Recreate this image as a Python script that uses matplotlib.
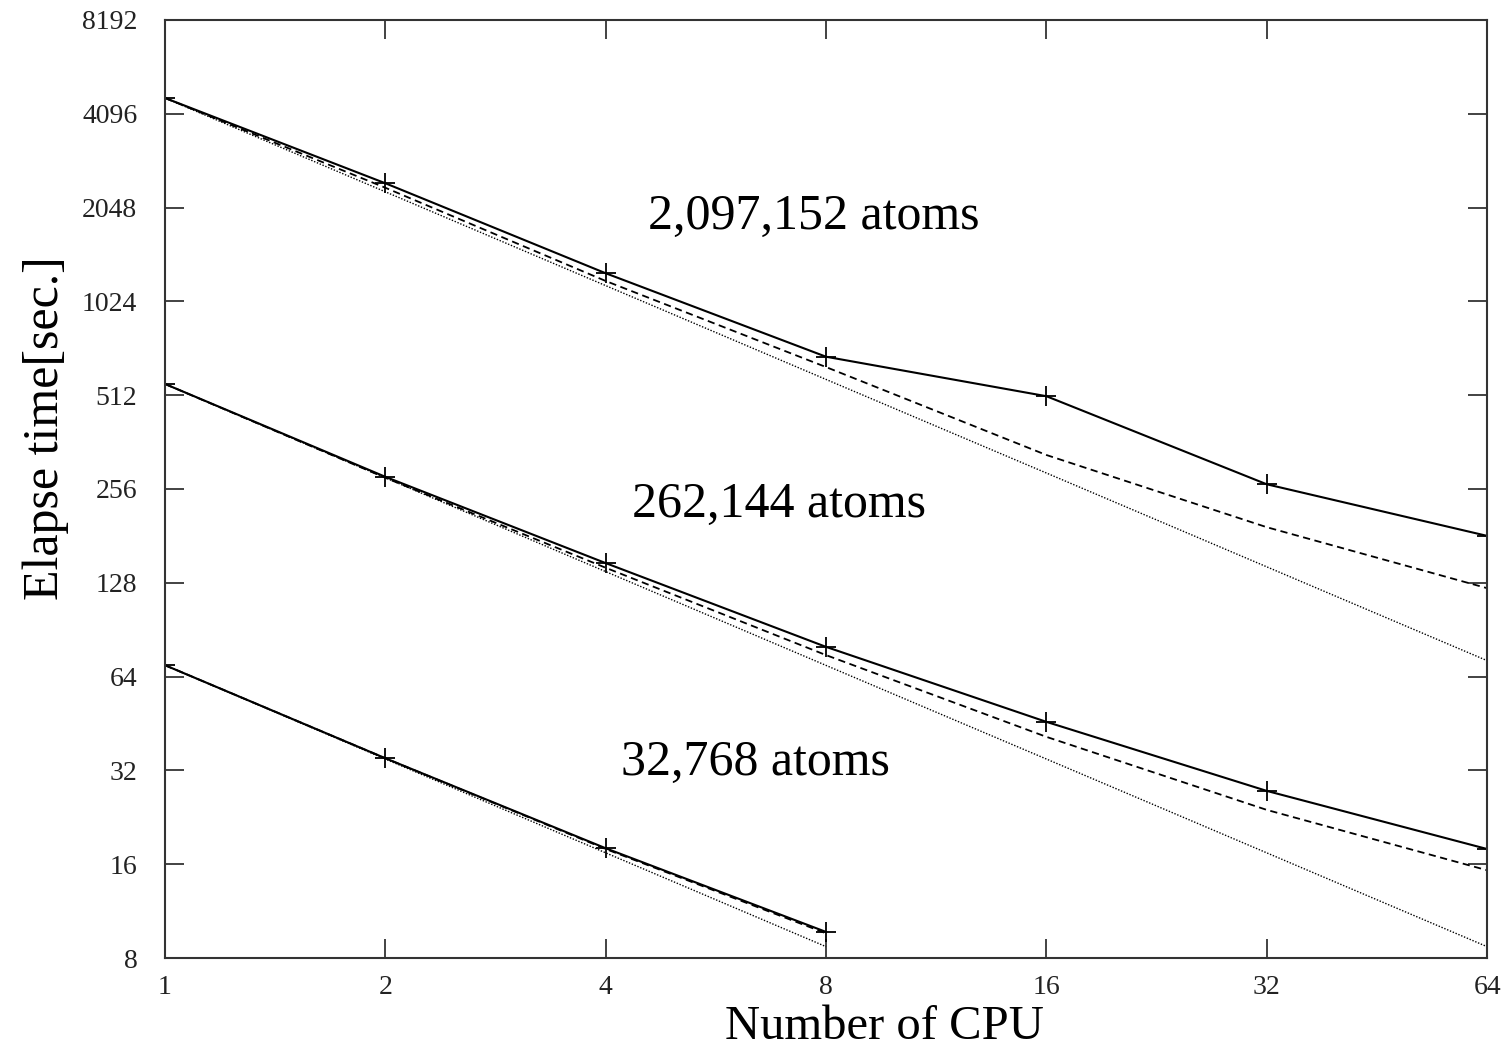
import matplotlib
matplotlib.use("Agg")
import matplotlib.pyplot as plt
from matplotlib.ticker import FixedLocator, FixedFormatter, NullLocator

plt.rcParams['font.family'] = ['Liberation Serif', 'DejaVu Serif']

cpus = [1, 2, 4, 8, 16, 32, 64]
cpus_small = [1, 2, 4, 8]

# 2,097,152 atoms
large_measured = [4600, 2450, 1260, 680, 508, 265, 181]
large_dashed = [4600, 2370, 1190, 630, 329, 193, 123]
large_ideal = [4600, 2300, 1150, 575, 288, 144, 72]

# 262,144 atoms
mid_measured = [556, 280, 148, 79.7, 45.8, 27.5, 17.9]
mid_dashed = [556, 278, 143, 75, 41, 23.9, 15.3]
mid_ideal = [556, 278, 139, 69.5, 34.8, 17.4, 8.7]

# 32,768 atoms
small_measured = [69.6, 35, 18, 9.7]
small_dashed = [69.6, 35, 17.9, 9.6]
small_ideal = [69.6, 34.8, 17.4, 8.7]

y_ticks = [8, 16, 32, 64, 128, 256, 512, 1024, 2048, 4096, 8192]

fig = plt.figure(figsize=(15.03, 10.47), dpi=100)
ax = fig.add_axes([0.1098, 0.085, 0.8796, 0.896])

groups = [(cpus, large_measured, large_dashed, large_ideal),
          (cpus, mid_measured, mid_dashed, mid_ideal),
          (cpus_small, small_measured, small_dashed, small_ideal)]
for x, meas, dash, ideal in groups:
    ax.plot(x, ideal, color='black', lw=1.0, linestyle=(0, (1, 1.2)))
    ax.plot(x, dash, color='black', lw=1.3, linestyle=(0, (4, 2.5)))
    ax.plot(x, meas, color='black', lw=1.5, marker='+', markersize=14,
            markeredgewidth=1.3)

ax.set_xscale('log', base=2)
ax.set_yscale('log', base=2)
ax.set_xlim(1, 64)
ax.set_ylim(8, 8192)

ax.xaxis.set_major_locator(FixedLocator(cpus))
ax.xaxis.set_major_formatter(FixedFormatter([str(c) for c in cpus]))
ax.xaxis.set_minor_locator(NullLocator())
ax.yaxis.set_major_locator(FixedLocator(y_ticks))
ax.yaxis.set_major_formatter(FixedFormatter([str(v) for v in y_ticks]))
ax.yaxis.set_minor_locator(NullLocator())

ax.tick_params(direction='in', length=14, width=1.2, top=True, right=True,
               labelsize=20, colors='#222222')
ax.tick_params(axis='x', pad=12)
ax.tick_params(axis='y', pad=20)
for s in ax.spines.values():
    s.set_linewidth(1.5)
    s.set_color('#333333')

ax.text(7.7, 1910, '2,097,152 atoms', fontsize=36, ha='center', va='center')
ax.text(6.9, 228, '262,144 atoms', fontsize=36, ha='center', va='center')
ax.text(6.4, 33.8, '32,768 atoms', fontsize=36, ha='center', va='center')

ax.set_xlabel('Number of CPU', fontsize=35)
ax.xaxis.label.set_va('baseline')
ax.xaxis.set_label_coords(0.544, -0.0865)
ax.set_ylabel('Elapse time[sec.]', fontsize=36)
ax.yaxis.set_label_coords(-0.073, 0.565)

fig.savefig('out.png', dpi=100)
